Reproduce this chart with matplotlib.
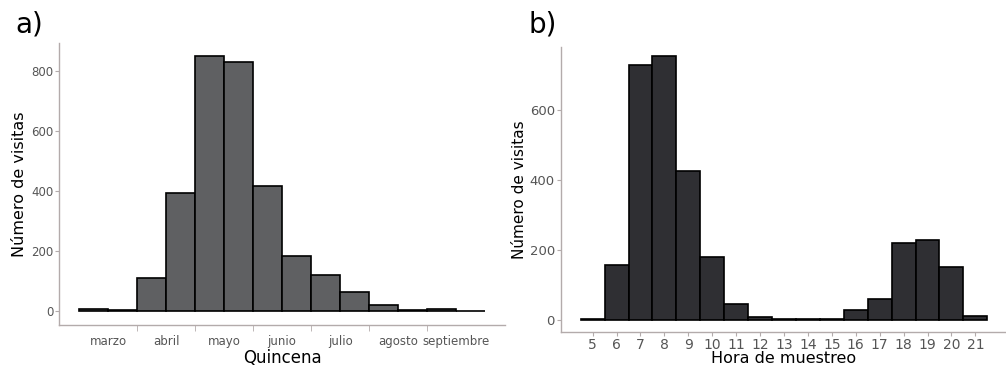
import matplotlib.pyplot as plt
import numpy as np

plt.rcParams['font.family'] = ['DejaVu Sans']

# a) visits per fortnight (quincena)
quincena_visitas = [5, 4, 109, 394, 851, 831, 418, 183, 120, 62, 19, 2, 7, 1]
meses = ["marzo", "abril", "mayo", "junio", "julio", "agosto", "septiembre"]

# b) visits per sampling hour
horas = list(range(5, 22))
hora_visitas = [2, 157, 726, 752, 425, 180, 45, 9, 4, 2, 2, 28, 61, 221, 228, 150, 12]

spine_col = "#b3abab"
tick_col = "#555555"

fig = plt.figure(figsize=(10.06, 3.66), dpi=100)

# ---- panel a
ax1 = fig.add_axes([0.0591, 0.112, 0.443, 0.7705])
x1 = np.arange(len(quincena_visitas))
ax1.bar(x1, quincena_visitas, width=1.0, color="#5f6062", edgecolor="black", linewidth=1.2)
ax1.set_xlim(-1.18, 14.19)
ax1.set_ylim(-46.7, 893)
ax1.set_yticks([0, 200, 400, 600, 800])
# month labels centred on each pair of fortnights, ticks at month boundaries
ax1.set_xticks(np.arange(0.5, 14, 2))
ax1.set_xticklabels(meses)
ax1.set_xticks(np.arange(1.5, 12, 2), minor=True)
ax1.tick_params(axis="x", which="major", length=0, pad=7, labelsize=8.5, colors=tick_col)
ax1.tick_params(axis="x", which="minor", length=4, color=spine_col)
ax1.tick_params(axis="y", length=3, pad=1.5, color=spine_col, labelsize=8.5, labelcolor=tick_col)
ax1.set_xlabel("Quincena", fontsize=12, labelpad=1)
ax1.set_ylabel("Número de visitas", fontsize=11.5, labelpad=3)
fig.text(0.015, 0.91, "a)", fontsize=20)

# ---- panel b
ax2 = fig.add_axes([0.5577, 0.0929, 0.4423, 0.7795])
ax2.bar(horas, hora_visitas, width=1.0, color="#2f2f33", edgecolor="black", linewidth=1.2)
ax2.set_xlim(3.68, 22.28)
ax2.set_ylim(-34, 779)
ax2.set_xticks(horas)
ax2.set_yticks([0, 200, 400, 600])
ax2.tick_params(axis="x", length=3, color=spine_col, labelsize=10, labelcolor=tick_col, pad=1.5)
ax2.tick_params(axis="y", length=3, pad=1.5, color=spine_col, labelsize=9.5, labelcolor=tick_col)
ax2.set_xlabel("Hora de muestreo", fontsize=11.5, labelpad=-1)
ax2.set_ylabel("Número de visitas", fontsize=11, labelpad=2)
fig.text(0.525, 0.91, "b)", fontsize=20)

for ax in (ax1, ax2):
    for side in ("top", "right"):
        ax.spines[side].set_visible(False)
    for side in ("left", "bottom"):
        ax.spines[side].set_color(spine_col)
        ax.spines[side].set_linewidth(1.0)

fig.savefig("out.png", dpi=100)
